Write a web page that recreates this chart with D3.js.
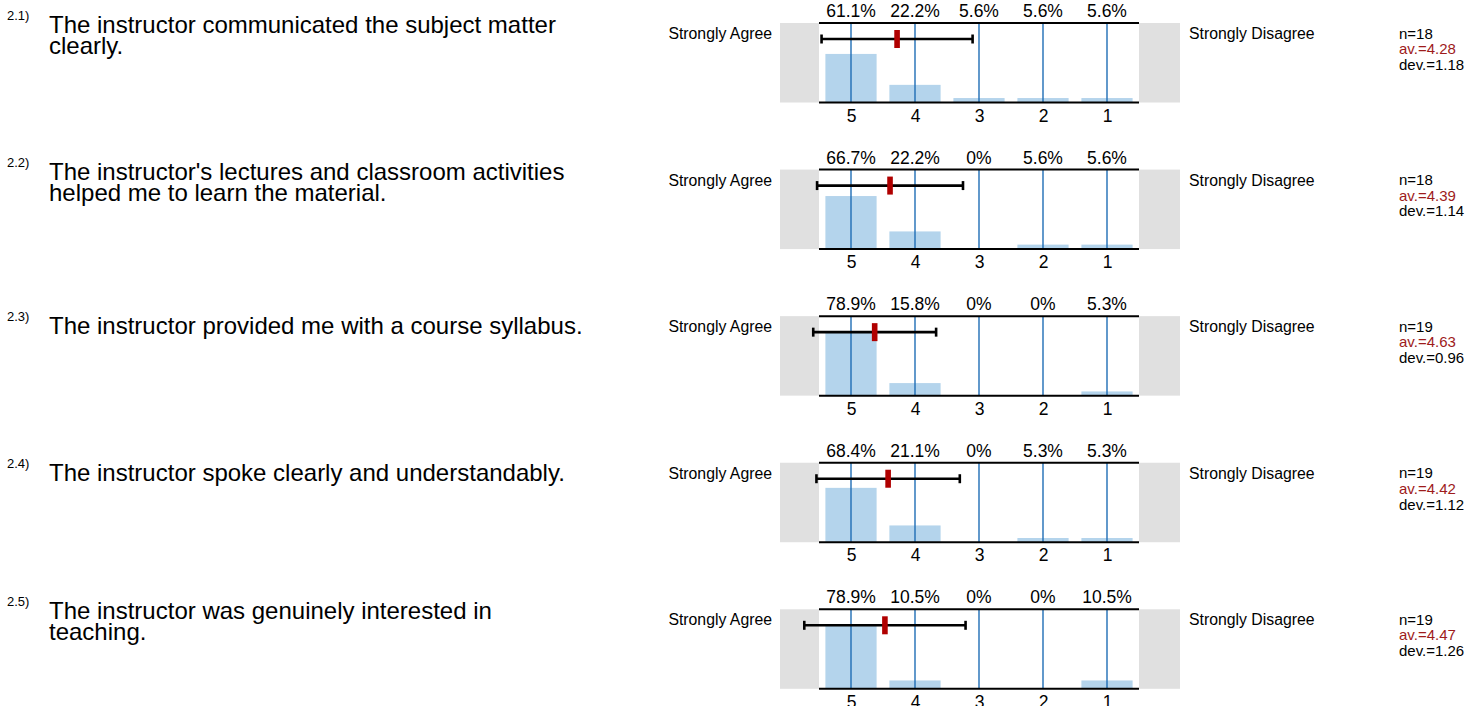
<!DOCTYPE html>
<html>
<head>
<meta charset="utf-8">
<script src="https://cdn.jsdelivr.net/npm/d3@7"></script>
<style>
  body { margin: 0; background: #fff; }
  svg { display: block; font-family: "Liberation Sans", Arial, sans-serif; }
</style>
</head>
<body>
<svg id="view" width="1472" height="706"></svg>
<script>
var numbers = ['2.1)', '2.2)', '2.3)', '2.4)', '2.5)'];
var questions = [
  ['The instructor communicated the subject matter', 'clearly.'],
  ["The instructor's lectures and classroom activities", 'helped me to learn the material.'],
  ['The instructor provided me with a course syllabus.'],
  ['The instructor spoke clearly and understandably.'],
  ['The instructor was genuinely interested in', 'teaching.']
];
var scale = [5, 4, 3, 2, 1];
var percents = [
  [61.1, 22.2, 5.6, 5.6, 5.6],
  [66.7, 22.2, 0, 5.6, 5.6],
  [78.9, 15.8, 0, 0, 5.3],
  [68.4, 21.1, 0, 5.3, 5.3],
  [78.9, 10.5, 0, 0, 10.5]
];
var counts = [18, 18, 19, 19, 19];
var means = [4.28, 4.39, 4.63, 4.42, 4.47];
var devs = [1.18, 1.14, 0.96, 1.12, 1.26];
var leftLabel = 'Strongly Agree';
var rightLabel = 'Strongly Disagree';

var view = d3.select('#view');
var plotH = 79.5;
var rowY = d3.scaleLinear().domain([0, 4]).range([23, 609.3]);
var x = d3.scaleBand().domain(scale).range([819, 1139]).paddingInner(0.2).paddingOuter(0.1);
var y = d3.scaleLinear().domain([0, 100]).range([plotH, 0]);
var xm = d3.scaleLinear().domain([5, 1])
  .range([x(5) + x.bandwidth() / 2, x(1) + x.bandwidth() / 2]);

function pct(v) {
  return v === 0 ? '0%' : v.toFixed(1) + '%';
}

percents.forEach(function(values, i) {
  var top = rowY(i);
  var g = view.append('g').attr('transform', 'translate(0,' + top + ')');

  // question text
  var lines = questions[i];
  var base = lines.length > 1 ? 10 : 18;
  g.append('text')
    .attr('x', 7).attr('y', base - 13)
    .attr('font-size', 13)
    .text(numbers[i]);
  lines.forEach(function(line, k) {
    g.append('text')
      .attr('x', 49).attr('y', base + k * 21)
      .attr('font-size', 24)
      .text(line);
  });

  // grey end boxes
  g.append('rect').attr('x', 780).attr('y', 0).attr('width', 39).attr('height', plotH).attr('fill', '#e0e0e0');
  g.append('rect').attr('x', 1139).attr('y', 0).attr('width', 41).attr('height', plotH).attr('fill', '#e0e0e0');

  g.append('text')
    .attr('x', 772).attr('y', 16)
    .attr('text-anchor', 'end')
    .attr('font-size', 15.8)
    .text(leftLabel);
  g.append('text')
    .attr('x', 1189).attr('y', 16)
    .attr('font-size', 15.8)
    .text(rightLabel);

  // bars
  g.selectAll('rect.bar')
    .data(values)
    .enter().append('rect')
    .attr('class', 'bar')
    .attr('x', function(d, j) { return x(scale[j]); })
    .attr('y', function(d) { return y(d); })
    .attr('width', x.bandwidth())
    .attr('height', function(d) { return plotH - y(d); })
    .attr('fill', '#b4d4ec');

  // vertical lines
  g.selectAll('line.grid')
    .data(scale)
    .enter().append('line')
    .attr('class', 'grid')
    .attr('x1', function(d) { return xm(d); })
    .attr('x2', function(d) { return xm(d); })
    .attr('y1', 0).attr('y2', plotH)
    .attr('stroke', '#1f6db5')
    .attr('stroke-width', 1.4);

  // top and bottom rules
  [0, plotH].forEach(function(yy) {
    g.append('line')
      .attr('x1', 819).attr('x2', 1139)
      .attr('y1', yy).attr('y2', yy)
      .attr('stroke', '#000')
      .attr('stroke-width', 2);
  });

  // percent labels
  g.selectAll('text.pct')
    .data(values)
    .enter().append('text')
    .attr('class', 'pct')
    .attr('x', function(d, j) { return xm(scale[j]); })
    .attr('y', -6)
    .attr('text-anchor', 'middle')
    .attr('font-size', 17.5)
    .text(pct);

  // scale labels
  var axis = d3.axisBottom(xm).tickValues(scale).tickSize(0).tickPadding(0).tickFormat(d3.format('d'));
  var ax = g.append('g')
    .attr('transform', 'translate(0,' + plotH + ')')
    .call(axis);
  ax.select('.domain').remove();
  ax.selectAll('text')
    .attr('font-family', '"Liberation Sans", Arial, sans-serif')
    .attr('font-size', 17.5)
    .attr('fill', '#000')
    .attr('dy', 0)
    .attr('y', 19);

  // error bar
  var ey = 16;
  var lo = xm(means[i] + devs[i]);
  var hi = xm(means[i] - devs[i]);
  g.append('line')
    .attr('x1', lo).attr('x2', hi).attr('y1', ey).attr('y2', ey)
    .attr('stroke', '#000').attr('stroke-width', 2.6);
  [lo, hi].forEach(function(xx) {
    g.append('line')
      .attr('x1', xx).attr('x2', xx).attr('y1', ey - 4.5).attr('y2', ey + 4.5)
      .attr('stroke', '#000').attr('stroke-width', 2.6);
  });
  g.append('rect')
    .attr('x', xm(means[i]) - 2.8).attr('y', ey - 9)
    .attr('width', 5.6).attr('height', 18)
    .attr('fill', '#b00000');

  // stats
  var stats = g.append('text').attr('x', 1399).attr('font-size', 15);
  stats.append('tspan').attr('x', 1399).attr('y', 15.6).text('n=' + counts[i]);
  stats.append('tspan').attr('x', 1399).attr('y', 31.2).attr('fill', '#9e1b1b').text('av.=' + means[i].toFixed(2));
  stats.append('tspan').attr('x', 1399).attr('y', 46.8).text('dev.=' + devs[i].toFixed(2));
});
</script>
</body>
</html>
